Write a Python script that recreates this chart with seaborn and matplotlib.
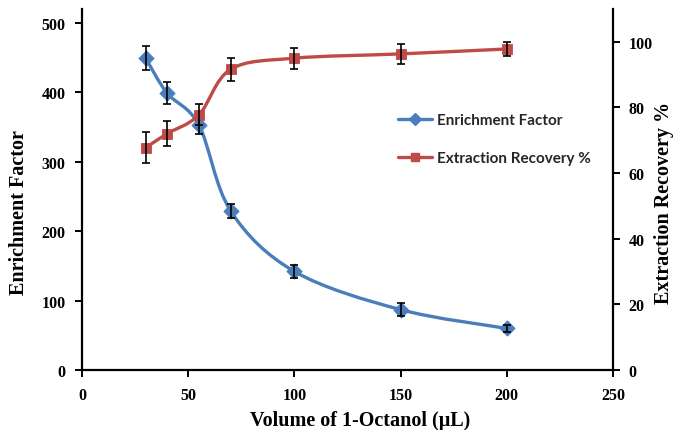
import numpy as np
import pandas as pd
import matplotlib
matplotlib.use("Agg")
import matplotlib.pyplot as plt
from matplotlib.path import Path
from matplotlib.patches import PathPatch
from matplotlib.lines import Line2D
import seaborn as sns

# ---- data ----
volume = [30, 40, 55, 70, 100, 150, 200]
enrichment = [449, 399, 353, 229, 142, 87, 60]
enrichment_err = [17, 16, 13, 10, 9, 9, 5]
recovery = [67.7, 72.0, 77.7, 91.6, 95.0, 96.3, 97.8]
recovery_err = [4.7, 3.8, 3.2, 3.5, 3.2, 3.0, 2.2]

x_ticks = [0, 50, 100, 150, 200, 250]
left_ticks = [0, 100, 200, 300, 400, 500]
right_ticks = [0, 20, 40, 60, 80, 100]

x_label = "Volume of 1-Octanol (\u03bcL)"
left_label = "Enrichment Factor"
right_label = "Extraction Recovery %"
series_names = ["Enrichment Factor", "Extraction Recovery %"]

BLUE = "#4A7EBB"
RED = "#BE4B48"

df = pd.DataFrame({"volume": volume, "enrichment": enrichment,
                   "recovery": recovery})

sns.set_theme(style="white")
plt.rcParams['font.family'] = ['Liberation Serif', 'DejaVu Serif']


def smooth_path(xs, ys):
    pts = np.column_stack([xs, ys]).astype(float)
    n = len(pts)
    verts = [pts[0]]
    codes = [Path.MOVETO]
    for i in range(n - 1):
        p0 = pts[i - 1] if i > 0 else pts[i]
        p1 = pts[i]
        p2 = pts[i + 1]
        p3 = pts[i + 2] if i + 2 < n else pts[i + 1]
        c1 = p1 + (p2 - p0) / 6.0
        c2 = p2 - (p3 - p1) / 6.0
        verts += [c1, c2, p2]
        codes += [Path.CURVE4] * 3
    return Path(verts, codes)


fig = plt.figure(figsize=(6.75, 4.31), dpi=100)
ax = fig.add_axes([0.1215, 0.139, 0.7867, 0.838])
ax2 = ax.twinx()

# Enrichment factor (left axis)
ax.add_patch(PathPatch(smooth_path(df.volume, df.enrichment), fill=False,
                       edgecolor=BLUE, lw=2.4, zorder=2))
sns.scatterplot(data=df, x="volume", y="enrichment", ax=ax, marker="D",
                s=60, color=BLUE, edgecolor=BLUE, zorder=3, legend=False)
ax.errorbar(volume, enrichment, yerr=enrichment_err, fmt="none",
            ecolor="black", elinewidth=1.2, capsize=3, capthick=1.2, zorder=4)

# Extraction recovery (right axis)
ax2.add_patch(PathPatch(smooth_path(df.volume, df.recovery), fill=False,
                        edgecolor=RED, lw=2.4, zorder=2))
sns.scatterplot(data=df, x="volume", y="recovery", ax=ax2, marker="s",
                s=55, color=RED, edgecolor=RED, zorder=3, legend=False)
ax2.errorbar(volume, recovery, yerr=recovery_err, fmt="none",
             ecolor="black", elinewidth=1.2, capsize=3, capthick=1.2, zorder=4)

ax.set_xlim(0, 250)
ax.set_ylim(0, 520)
ax2.set_ylim(0, 110)
ax.set_xticks(x_ticks)
ax.set_yticks(left_ticks)
ax2.set_yticks(right_ticks)

tick_font = dict(fontsize=11.5, fontweight="bold")
ax.set_xticklabels([str(t) for t in x_ticks], **tick_font)
ax.set_yticklabels([str(t) for t in left_ticks], **tick_font)
ax2.set_yticklabels([str(t) for t in right_ticks], **tick_font)

for a in (ax, ax2):
    for s in a.spines.values():
        s.set_visible(False)
    a.grid(False)
ax.spines["left"].set_visible(True)
ax.spines["bottom"].set_visible(True)
ax2.spines["right"].set_visible(True)
for s in (ax.spines["left"], ax.spines["bottom"], ax2.spines["right"]):
    s.set_color("black")
    s.set_linewidth(1.6)

ax.tick_params(axis="both", direction="out", length=5, width=1.4,
               colors="black", pad=7, left=True, bottom=True)
ax2.tick_params(axis="y", direction="out", length=5, width=1.4,
                colors="black", pad=6, right=True)

label_font = dict(fontsize=14.5, fontweight="bold", color="black")
ax.set_xlabel(x_label, **label_font)
ax.set_ylabel(left_label, **label_font)
ax2.set_ylabel(right_label, **label_font)
ax.xaxis.set_label_coords(0.523, -0.11)
ax.yaxis.set_label_coords(-0.10, 0.44)
ax2.yaxis.set_label_coords(1.078, 0.465)

handles = [
    Line2D([], [], color=BLUE, lw=2.4, marker="D", markersize=6),
    Line2D([], [], color=RED, lw=2.4, marker="s", markersize=6),
]
leg = ax2.legend(handles, series_names, loc="upper left",
                 bbox_to_anchor=(0.57, 0.75), frameon=False,
                 prop={"family": "Lato", "weight": "bold", "size": 11},
                 labelspacing=1.6, handlelength=2.2, handletextpad=0.3)

fig.savefig("out.png", dpi=100)
